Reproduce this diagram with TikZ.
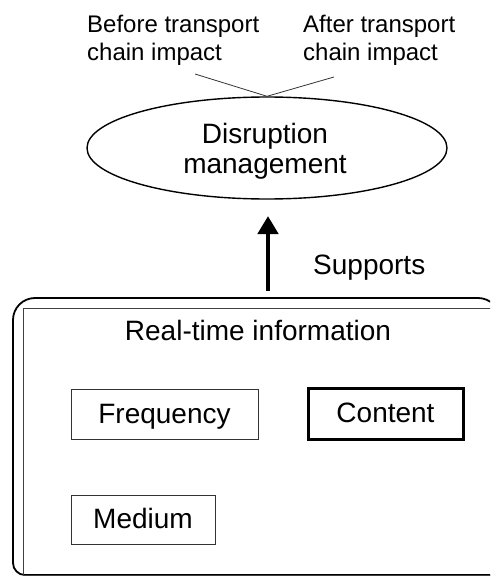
\documentclass[tikz,border=0pt]{standalone}
\usepackage{fontspec}
\setmainfont{Liberation Sans}
\usetikzlibrary{shapes.geometric,arrows.meta}
\tikzset{
  mainfont/.style={font=\fontsize{28}{30}\selectfont},
  labfont/.style={font=\fontsize{24}{27.5}\selectfont},
  thinbox/.style={draw=black!80, line width=1pt, inner sep=0pt, text height=18pt, text depth=0pt},
  thickbox/.style={draw=black, line width=3pt, inner sep=0pt, text height=18pt, text depth=0pt},
}
\begin{document}
\begin{tikzpicture}[x=1pt,y=-1pt]
\clip (0,0) rectangle (490,578);
\fill[white] (0,0) rectangle (490,578);

% top labels (base = baseline of last line)
\node[labfont, anchor=base west, align=left, inner sep=0pt] (before) at (87,60) {Before transport\\chain impact};
\node[labfont, anchor=base west, align=left, inner sep=0pt] (after) at (303,60) {After transport\\chain impact};

% ellipse
\node[ellipse, draw, line width=1.4pt, minimum width=360pt, minimum height=102pt, inner sep=0pt] (dm) at (267,148) {};
\node[mainfont, align=center, inner sep=0pt, anchor=base] (dmtext) at (265,173.5) {Disruption\\management};

\coordinate (l1) at (195,74);
\coordinate (l2) at (334,77);
\draw[line width=0.8pt, black!80] (l1) -- (dm.north);
\draw[line width=0.8pt, black!80] (l2) -- (dm.north);

% arrow
\coordinate (as) at (268,291);
\coordinate (ae) at (268,216);
\draw[-{Triangle[width=20pt,length=18pt]}, line width=4.5pt] (as) -- (ae);
\node[mainfont, anchor=base west, inner sep=0pt] (sup) at (313,274) {Supports};

% outer box
\draw[line width=1.8pt, rounded corners=22pt] (13,450) -- (13,298) -- (500,298) -- (500,600);
\draw[line width=1.8pt, rounded corners=12pt] (13,420) -- (13,575) -- (600,575);
\draw[line width=1pt, black!75] (600,308) -- (23,308) -- (23,575) -- (600,575);

\node[mainfont, anchor=base, inner sep=0pt] (rti) at (258,340) {Real-time information};

% boxes
\node[thinbox, mainfont, minimum width=187pt, minimum height=50pt] (freq) at (164.5,414) {Frequency};
\node[thickbox, mainfont, minimum width=155pt, minimum height=51pt] (cont) at (385.5,413.5) {Content};
\node[thinbox, mainfont, minimum width=144pt, minimum height=49pt] (med) at (143,519.5) {Medium};
\end{tikzpicture}
\end{document}
